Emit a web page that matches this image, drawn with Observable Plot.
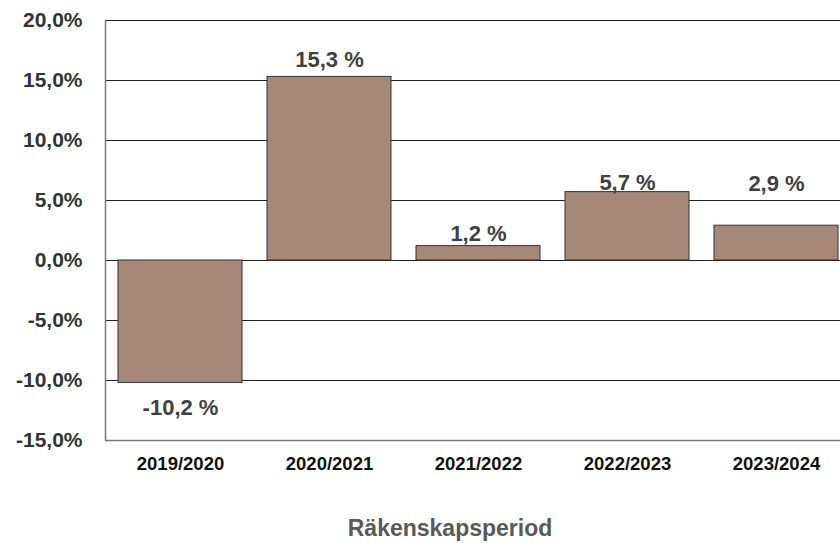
<!DOCTYPE html>
<html>
<head>
<meta charset="utf-8">
<script src="https://cdn.jsdelivr.net/npm/d3@7"></script>
<script src="https://cdn.jsdelivr.net/npm/@observablehq/plot@0.6"></script>
<style>
  html, body { margin: 0; padding: 0; background: #fff; }
  svg { display: block; }
</style>
</head>
<body>
<div id="chart"></div>
<script>
// Data
const periods = ["2019/2020", "2020/2021", "2021/2022", "2022/2023", "2023/2024"];
const values = [-10.2, 15.3, 1.2, 5.7, 2.9];
// where each value label sits (in % units, as placed in the original chart)
const labelAt = [-12.3, 16.75, 2.25, 6.5, 6.4];
const yTicks = [-15, -10, -5, 0, 5, 10, 15, 20];
const xTitle = "Räkenskapsperiod";

const rows = periods.map((p, i) => ({period: p, value: values[i], labelY: labelAt[i]}));
const fmtTick = d => d.toFixed(1).replace(".", ",") + "%";
const fmtVal = d => d.toFixed(1).replace(".", ",") + " %";

const chart = Plot.plot({
  width: 840,
  height: 543,
  marginLeft: 105,
  marginRight: -10,
  marginTop: 20,
  marginBottom: 103,
  style: {fontFamily: "'Liberation Sans', Arial, sans-serif", background: "#fff"},
  x: {domain: periods, paddingInner: 0.17, paddingOuter: 0.085, label: null},
  y: {domain: [-15, 20], label: null},
  marks: [
    Plot.ruleY(yTicks.filter(d => d > -15), {stroke: "#222", strokeWidth: 1}),
    Plot.barY(rows, {x: "period", y: "value", fill: "#a58878", stroke: "#333", strokeWidth: 1}),
    Plot.ruleY([-15], {stroke: "#777", strokeWidth: 1.5}),
    Plot.frame({anchor: "left", stroke: "#777", strokeWidth: 1.5}),
    Plot.text(rows, {x: "period", y: "labelY", text: d => fmtVal(d.value), fill: "#404040",
      fontWeight: "bold", fontSize: 22}),
    Plot.axisY(yTicks, {tickSize: 0, tickPadding: 23, tickFormat: fmtTick, fontSize: 21,
      fontWeight: "bold", fill: "#333", label: null}),
    Plot.axisX({tickSize: 0, tickPadding: 16, fontSize: 18.5, fontWeight: "bold", fill: "#111", label: null}),
    Plot.text([xTitle], {frameAnchor: "bottom", lineAnchor: "middle", dx: -28, dy: 88, fontSize: 23,
      fontWeight: "bold", fill: "#595959"})
  ]
});
document.getElementById("chart").appendChild(chart);
</script>
</body>
</html>
